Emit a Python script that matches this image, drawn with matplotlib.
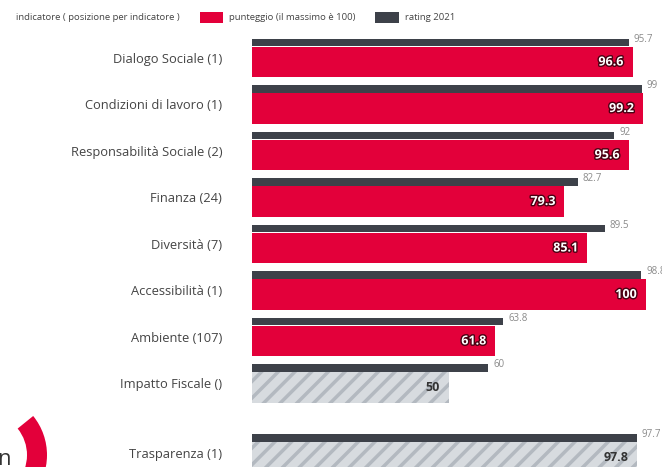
import matplotlib.pyplot as plt
import matplotlib.patheffects as pe
from matplotlib.patches import Rectangle, Wedge

plt.rcParams['font.family'] = ['Open Sans', 'DejaVu Sans']
plt.rcParams['hatch.linewidth'] = 2.5

categories = [
    "Dialogo Sociale (1)",
    "Condizioni di lavoro (1)",
    "Responsabilità Sociale (2)",
    "Finanza (24)",
    "Diversità (7)",
    "Accessibilità (1)",
    "Ambiente (107)",
    "Impatto Fiscale ()",
    "Trasparenza (1)",
]
punteggio = [96.6, 99.2, 95.6, 79.3, 85.1, 100, 61.8, 50, 97.8]
rating_2021 = [95.7, 99, 92, 82.7, 89.5, 98.8, 63.8, 60, 97.7]
no_score = [False, False, False, False, False, False, False, True, True]

RED = '#e3003a'
DARK = '#3d4149'
HATCH_FACE = '#d7dbdf'
HATCH_LINE = '#b3b9c0'
TEXT = '#444444'

fig = plt.figure(figsize=(6.62, 4.67), dpi=100)

# main axes: left edge at x=252 px, runs off the right of the picture
ax = fig.add_axes([252 / 662, 0, 1 - 252 / 662, 1])
ax.set_xlim(0, 104.06)
ax.set_ylim(8.796, -1.247)
ax.patch.set_alpha(0)

rows = [0, 1, 2, 3, 4, 5, 6, 7, 8.5]

for y, score, rating, hatched in zip(rows, punteggio, rating_2021, no_score):
    ax.barh(y - 0.33, rating, height=0.157, color=DARK, linewidth=0)
    ax.text(rating + 1.2, y - 0.40, f"{rating:g}", ha='left', va='center',
            fontsize=7, color='#8a8a8a')
    if hatched:
        ax.barh(y + 0.086, score, height=0.66, color=HATCH_FACE,
                edgecolor=HATCH_LINE, hatch='//', linewidth=0)
        ax.text(score - 2.3, y + 0.086, f"{score:g}", ha='right', va='center',
                fontsize=9, fontweight='bold', color='#333333')
    else:
        ax.barh(y + 0.086, score, height=0.66, color=RED, linewidth=0)
        ax.text(score - 2.3, y + 0.086, f"{score:g}", ha='right', va='center',
                fontsize=9, fontweight='bold', color='white',
                path_effects=[pe.withStroke(linewidth=2, foreground='#4a0012')])

ax.set_yticks(rows)
ax.set_yticklabels(categories, fontsize=9.3, color=TEXT)
ax.tick_params(axis='y', length=0, pad=21.5)
ax.set_xticks([])
for side in ax.spines.values():
    side.set_visible(False)

# overlay in pixel units for the legend and the logo
over = fig.add_axes([0, 0, 1, 1], zorder=2)
over.set_xlim(0, 662)
over.set_ylim(467, 0)
over.axis('off')

over.text(16, 17.5, "indicatore ( posizione per indicatore )", ha='left',
          va='center', fontsize=6.8, color=TEXT)
over.add_patch(Rectangle((200, 12), 23, 11, color=RED, linewidth=0))
over.text(229, 17.5, "punteggio (il massimo è 100)", ha='left', va='center',
          fontsize=6.8, color=TEXT)
over.add_patch(Rectangle((375, 12), 24, 11, color=DARK, linewidth=0))
over.text(405, 17.5, "rating 2021", ha='left', va='center',
          fontsize=6.8, color=TEXT)

# partial logo in the lower left corner
over.add_patch(Wedge((-15, 455), 62, -39, 40, width=20, color=RED, linewidth=0))
over.text(-3, 465, "n", ha='left', va='baseline', fontsize=16, color='#333333')

fig.savefig('out.png', dpi=100)
